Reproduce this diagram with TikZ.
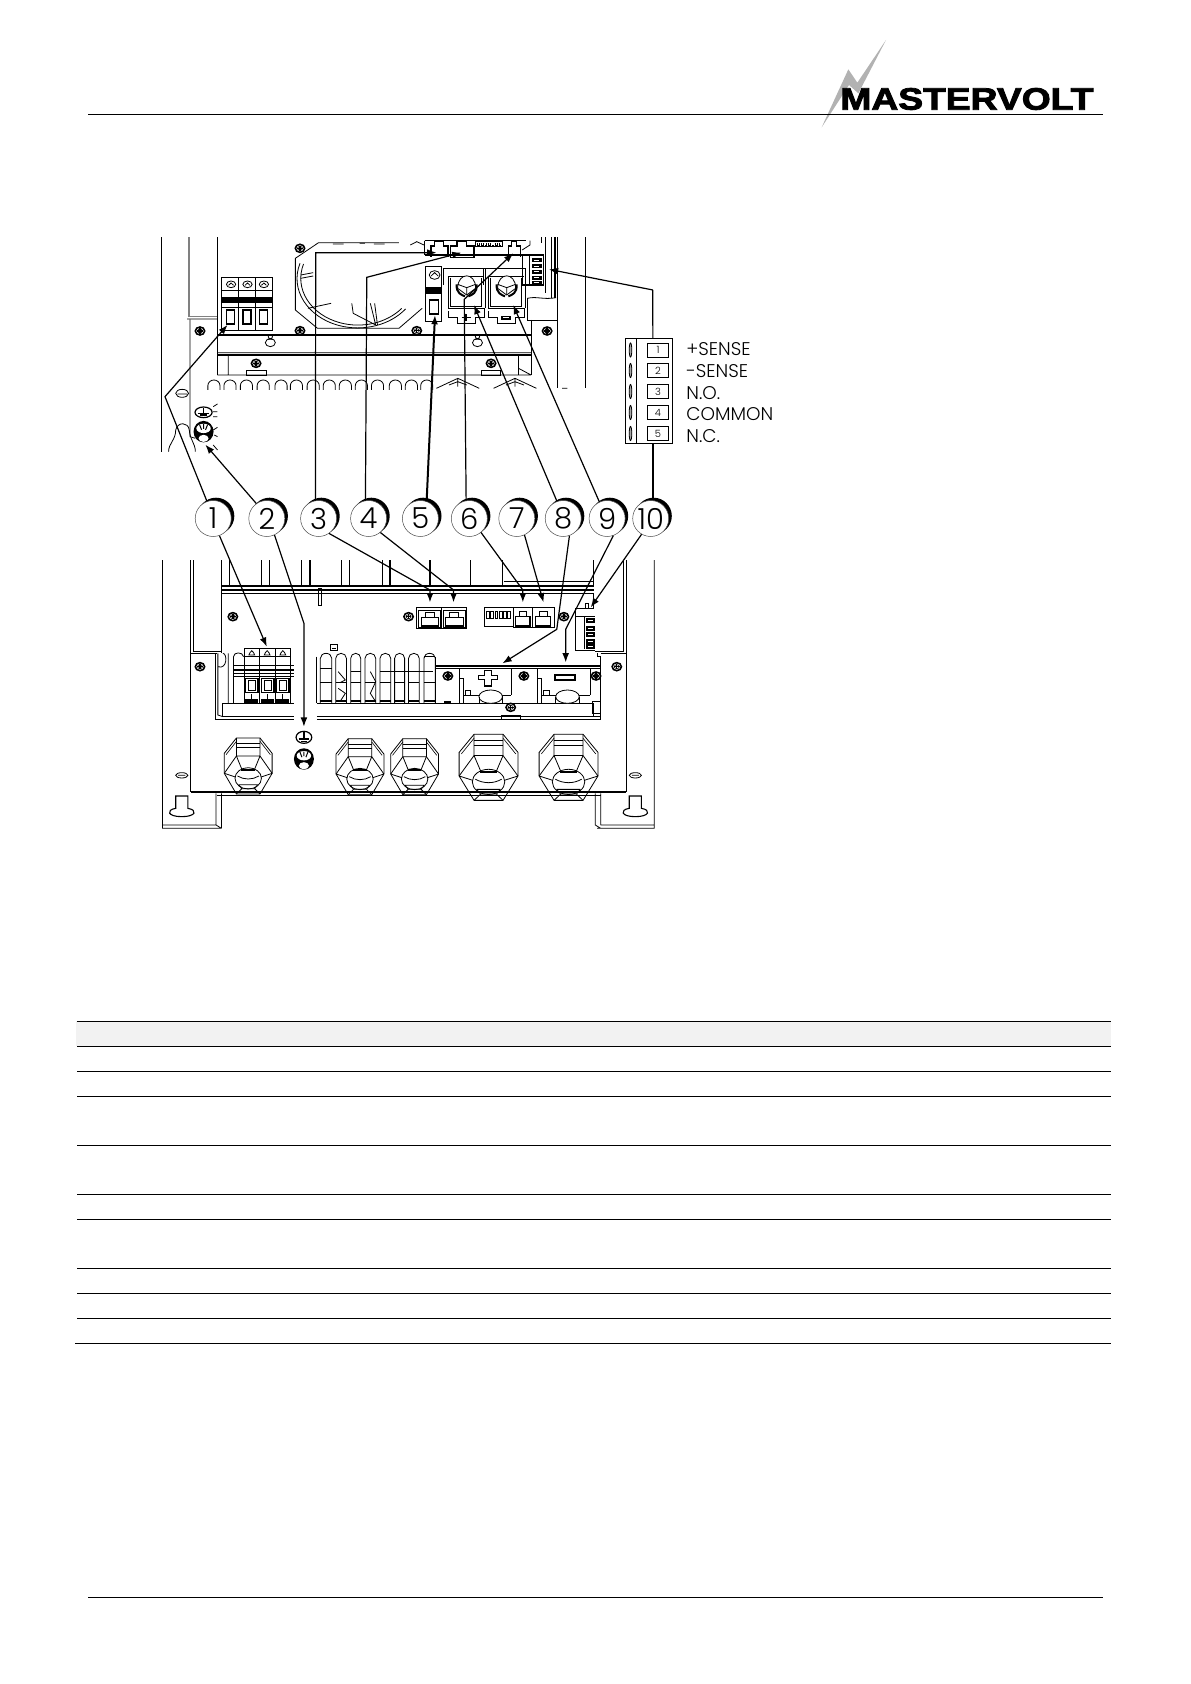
\documentclass[tikz,border=0pt]{standalone}
\usepackage{fontspec}
\usepackage{graphicx}
\setmainfont{Poppins}
\newfontfamily\lightf{Poppins Light}
\newfontfamily\logofont{Liberation Sans}[FakeBold=2.5]
\usetikzlibrary{arrows.meta,calc}
\tikzset{
 art/.style={line width=0.4pt,black},
 artb/.style={line width=0.7pt,black},
 rule/.style={line width=0.5pt,black},
 conn/.style={line width=0.6pt,black,-{Latex[length=4.6pt,width=3.4pt]}},
 connb/.style={line width=1pt,black,-{Latex[length=4.6pt,width=3.4pt]}},
 numc/.style={circle,draw=black!70,line width=0.25pt,fill=white,minimum size=18pt,inner sep=0pt,font=\lightf\fontsize{14.5}{14.5}\selectfont},
 sqnum/.style={draw=black,line width=0.4pt,minimum width=10.5pt,minimum height=7pt,inner sep=0pt,font=\lightf\fontsize{5}{5}\selectfont},
 senselab/.style={anchor=base west,inner sep=0pt,font=\lightf\fontsize{9.2}{9.2}\selectfont,text=black},
}
\newcommand{\scr}[2]{\draw[art,line width=0.8pt,fill=white] (#1,#2) circle [x radius=13,y radius=12];
 \draw[art,line width=0.7pt] (#1-8,#2)--(#1+8,#2) (#1,#2-8)--(#1,#2+8) ;
 \draw[art,line width=0.3pt] (#1,#2) circle [x radius=7,y radius=6];}
\newcommand{\arch}[3]{\draw[art] (#1-#3,510) -- (#1-#3,#2) arc [start angle=180,end angle=360,x radius=#3,y radius=#3] -- (#1+#3,510);}
\newcommand{\groundbolt}[3]{\fill (#1,#2) circle [x radius=#3,y radius=#3*1.15];
 \fill[white] (#1,#2-#3*0.35) circle [x radius=#3*0.72,y radius=#3*0.5];
 \draw[line width=0.5pt] (#1-#3*0.4,#2-#3*0.75)--(#1-#3*0.2,#2-#3*0.2) (#1,#2-#3*0.8)--(#1,#2-#3*0.3) (#1+#3*0.4,#2-#3*0.75)--(#1+#3*0.2,#2-#3*0.2);
 \fill[white] (#1,#2+#3*0.72) circle [x radius=#3*0.5,y radius=#3*0.38];}
\newcommand{\cablegland}[4]{\begin{scope}[shift={(#1,#2)},xscale=#3,yscale=#4]
 \draw[art] (-33,-84)--(33,-84)--(67,-38)--(67,22)--(33,84)--(-33,84)--(-67,22)--(-67,-38)--cycle;
 \draw[art,line width=0.3pt] (-33,-74)--(-62,-34) (33,-74)--(62,-34);
 \draw[art] (-33,-68)--(33,-68);
 \draw[art,line width=0.55pt] (-33,-55)--(33,-55);
 \draw[art] (-33,-84)--(-33,-30)--(-17,12) (33,-84)--(33,-30)--(17,12) (-33,-30)--(33,-30);
 \draw[art] (-33,-30)--(-67,22) (33,-30)--(67,22) (-67,22)--(-36,33) (67,22)--(36,33);
 \draw[art] (0,37) circle [x radius=37,y radius=32];
 \draw[art,line width=0.9pt] (-19,11)--(19,11);
 \draw[art] (-30,30) .. controls (-12,42) and (12,42) .. (30,30);
 \draw[art] (-33,84)--(-18,68)--(18,68)--(33,84) (-27,56)--(27,56) (-27,56)--(-18,68) (27,56)--(18,68);
\end{scope}}
\begin{document}
\begin{tikzpicture}[x=0.5pt,y=-0.5pt]
\useasboundingbox (0,0) rectangle (1190,1684);
% page rules
\coordinate (rt1) at (88,114.8); \coordinate (rt2) at (1103,114.8);
\coordinate (rb1) at (88,1597); \coordinate (rb2) at (1103,1597);
\draw[rule] (rb1)--(rb2);
% logo
\begin{scope}[shift={(780,20)},xscale=1/3,yscale=1/3]
 \fill[black!30] (318,60)--(232,188)--(205,148)--(125,322)--(207,195)--(235,220)--cycle;
 \node[inner sep=0pt,anchor=west] (logo) at (180,237) {\resizebox{126.5pt}{10.8pt}{\logofont\bfseries MASTERVOLT}};
\end{scope}
\draw[rule] (rt1)--(rt2);
% table
\fill[black!5] (76,1021) rectangle (1111,1046);
\foreach \yy in {1021,1046,1071,1096,1145,1194,1219,1268,1293,1318}{\draw[rule] (77,\yy)--(1111,\yy);}
\draw[rule] (75,1343)--(1111,1343);
%%%%%%%%%% upper drawing
\begin{scope}[shift={(140,220)},xscale=1/2.8,yscale=1/3]
 \draw[art] (60,52)--(60,695) (217,52)--(217,465) (1248,52)--(1248,505) (1170,52)--(1170,505);
 \draw[art,black!50,line width=0.8pt] (137,52)--(137,290)--(217,290);
 \draw[art] (132,297)--(217,297) (140,300)--(140,650)--(155,655);
 \draw[art] (1095,300)--(1095,465) (1085,300)--(1170,300);
 % fan
 \draw[art] (435,115)--(500,68)--(725,68) (435,115)--(435,270)--(497,325)--(725,325)--(790,265);
 \draw[art] (448,130) arc [start angle=198,end angle=38,x radius=170,y radius=148];
 \draw[art] (458,132) arc [start angle=198,end angle=40,x radius=160,y radius=140];
 \draw[art] (470,265)--(535,250) (593,250)--(597,280)--(660,315) (645,250)--(660,315) (657,250)--(665,315);
 \draw[art] (450,165)--(485,158) (450,175)--(485,168) (540,72)--(570,72) (615,70)--(630,70) (655,72)--(685,72) (757,75)--(775,65)--(795,75);
 % breaker
 \draw[art] (228,172) rectangle (370,332) (275,172)--(275,332) (322,172)--(322,332) (228,212)--(370,212) (228,262)--(370,262);
 \fill (228,232) rectangle (370,248);
 \foreach \xx in {242,288,334}{\draw[artb] (\xx,270) rectangle (\xx+23,312);}
 \foreach \xx in {255,301,347}{\draw[art] (\xx,193) circle [x radius=13,y radius=10]; \draw[art] (\xx-7,196)--(\xx,189)--(\xx+7,196);}
 % rails
 \draw[artb,line width=0.9pt] (217,345)--(1095,345) (217,405)--(1095,405);
 \draw[art] (217,398)--(1095,398) (217,465)--(1095,465) (247,405)--(247,465) (1060,405)--(1060,465) (1060,445)--(1095,465);
 \scr{168}{333} \scr{448}{85} \scr{448}{332} \scr{775}{332} \scr{1140}{333}
 \foreach \xx in {365,945}{\draw[art,fill=white] (\xx,368) circle [x radius=14,y radius=12]; \draw[art] (\xx-8,358)--(\xx+8,358) (\xx,350) circle [x radius=6,y radius=6];}
 \scr{325}{430} \scr{983}{430}
 \draw[art] (298,452) rectangle (355,465) (955,452) rectangle (1010,465);
 % arches
 \foreach \xx in {207,252,298,345,395,438,485,530,575,620,665,715,760,803}{\arch{\xx}{497}{17}}
 \draw[art] (830,505)--(890,475)--(950,505) (865,495)--(890,485)--(915,495) (990,505)--(1050,475)--(1110,505) (1025,495)--(1050,485)--(1075,495) (890,475)--(890,500) (1050,475)--(1050,500) (1182,505)--(1197,505);
 % RJ block
 \draw[artb] (797,62)--(1080,62) (797,62)--(797,105) (797,105)--(1070,105);
 \draw[artb] (815,110)--(815,78)--(825,78)--(825,65)--(850,65)--(850,78)--(862,78)--(862,110);
 \draw[artb] (870,112)--(935,112)--(935,78)--(915,78)--(915,65)--(888,65)--(888,78)--(870,78)--cycle;
 \draw[art] (940,65) rectangle (1015,80);
 \foreach \xx in {945,955,965,975,985,995,1005}{\fill (\xx,68) rectangle (\xx+7,78); \fill[white] (\xx+2,70) rectangle (\xx+5,75);}
 \draw[artb] (1032,112)--(1032,78)--(1040,78)--(1040,65)--(1055,65)--(1055,78)--(1065,78)--(1065,112);
 % switch
 \draw[art,line width=0.6pt] (800,140) rectangle (845,305);
 \draw[art] (825,165) circle [x radius=15,y radius=13]; \draw[art] (815,168)--(825,158)--(835,168);
 \fill (800,200) rectangle (845,222);
 \draw[art,line width=0.6pt] (810,240) rectangle (835,282);
 % right connector
 \draw[art,line width=0.6pt] (1070,105)--(1130,105)--(1130,195)--(1070,195)--cycle (1090,105)--(1090,195);
 \foreach \yy in {115,133,150,168,183}{\fill (1097,\yy) rectangle (1125,\yy+11); \draw[white,line width=0.4pt] (1102,\yy+5)--(1118,\yy+5);}
 \draw[art,line width=0.7pt] (1125,52)--(1125,70) (1135,52)--(1135,220) (1152,52)--(1152,235) (1162,52)--(1162,235);
 \draw[art] (1092,62)--(1092,75)--(1070,90) (1085,300)--(1085,235) .. controls (1110,228) and (1130,240) .. (1165,233);
 % ground & curves
 \draw[art,line width=0.6pt] (178,577) circle [x radius=24,y radius=16];
 \draw[artb] (178,565)--(178,580) (162,580)--(194,580) (168,585)--(188,585);
 \groundbolt{178}{635}{28}
 \draw[art] (205,560)--(217,552) (205,575)--(217,575) (205,590)--(217,590) (205,630)--(217,622) (208,645)--(217,650) (205,675)--(217,690);
 \draw[art] (118,520) circle [x radius=18,y radius=12] (105,522)--(131,522);
 \draw[art] (80,695) .. controls (80,670) and (100,660) .. (100,630) .. controls (105,605) and (135,605) .. (138,630) .. controls (140,660) and (155,670) .. (155,695);
 \coordinate (t1) at (245,315); \coordinate (a1) at (70,530);
 \coordinate (t2) at (183,674);
 \coordinate (a3) at (492,98); \coordinate (t3) at (830,98);
 \coordinate (a4) at (635,172); \coordinate (t4) at (900,98);
 \coordinate (t5) at (826,285);
 \coordinate (a6) at (908,238); \coordinate (t6) at (1045,100);
 \coordinate (t8) at (935,255);
 \coordinate (t9) at (1045,255);
 \coordinate (a10) at (1436,210); \coordinate (t10) at (1145,148);
\end{scope}
%%%%%%%%%% power terminals, upper
\begin{scope}[shift={(410,225)},xscale=1/3,yscale=1/3]
 \foreach \dx in {0,120}{
  \begin{scope}[shift={(\dx,0)}]
  \draw[art] (100,180)--(100,130)--(225,130)--(225,250);
  \draw[artb] (115,250)--(115,155)--(222,155) (115,250)--(222,250);
  \draw[art] (122,158)--(122,243)--(215,243)--(215,158);
  \draw[art,fill=white] (143,190) .. controls (143,140) and (197,140) .. (197,190) -- (170,210) -- cycle;
  \draw[art] (143,178)--(170,188)--(197,178) (170,188)--(170,210);
  \draw[line width=1pt] (140,178) .. controls (138,205) and (155,210) .. (165,214) (200,178) .. controls (202,205) and (185,210) .. (175,214);
  \draw[art] (115,258)--(115,278)--(142,278)--(142,295)--(195,295)--(195,278)--(222,278)--(222,250);
  \end{scope}
 }
 \draw[art,line width=0.6pt] (155,278)--(182,278) (168,268)--(168,288);
 \draw[artb] (276,274) rectangle (300,282);
\end{scope}
%%%%%%%%%% lower drawing
\begin{scope}[shift={(140,540)},xscale=1/2.8,yscale=1/3]
 \draw[art] (63,60)--(63,865)--(228,865) (213,760)--(213,855)--(228,865) (228,760)--(228,865) (63,855)--(213,855);
 \draw[art] (1440,60)--(1440,865)--(1280,865) (1275,760)--(1275,855)--(1290,865) (1290,760)--(1290,855) (1440,855)--(1290,855);
 \draw[art] (142,60)--(142,755) (150,60)--(150,335) (142,340)--(215,340) (150,335)--(228,335) (1362,60)--(1362,755) (1353,60)--(1353,335) (1290,340)--(1362,340) (1275,335)--(1353,335);
 \draw[artb,line width=0.9pt] (142,755)--(1362,755);
 \draw[art] (215,767)--(1290,767);
 % fins
 \draw[art] (228,60)--(228,340);
 \foreach \xx in {250,340,362,452,476,565,587,680,700,812,925,1015,1270}{\draw[art,line width=0.6pt] (\xx,60)--(\xx,138);}
 \draw[art,line width=0.6pt] (228,138)--(1270,138) (228,150)--(1270,150) (228,160)--(1270,160) (1020,125)--(1270,125);
 \draw[art] (500,145) rectangle (508,195);
 \draw[art] (1270,160)--(1270,205)--(1220,205)--(1220,330)--(1275,330);
 % RJs
 \draw[art,line width=0.55pt] (775,203) rectangle (915,265) (845,203)--(845,265);
 \draw[art] (780,210) rectangle (840,262) (850,210) rectangle (910,262);
 \draw[art,line width=0.55pt] (788,232) rectangle (836,258) (855,232) rectangle (905,258);
 \draw[art] (800,232)--(800,218)--(825,218)--(825,232) (865,232)--(865,218)--(892,218)--(892,232);
 \draw[art,line width=0.55pt] (965,203) rectangle (1160,260);
 \draw[art,line width=0.55pt,fill=white] (1045,203) rectangle (1100,263) (1100,203) rectangle (1160,263);
 \draw[art,line width=0.55pt] (1052,230) rectangle (1092,258) (1108,230) rectangle (1150,258);
 \draw[art] (1062,230)--(1062,215)--(1082,215)--(1082,230) (1118,230)--(1118,215)--(1140,215)--(1140,230);
 \foreach \xx in {970,982,994,1006,1018,1030}{\draw[art] (\xx,215) rectangle (\xx+8,235);}
 \scr{260}{230} \scr{752}{230} \scr{1187}{230} \scr{168}{380} \scr{1335}{380} \scr{862}{408} \scr{1075}{408} \scr{1277}{408} \scr{1038}{502}
 % breaker
 \draw[art] (292,490)--(292,325)--(422,325)--(422,490) (335,325)--(335,490) (378,325)--(378,490) (292,350)--(422,350);
 \fill (262,388) rectangle (430,392);
 \draw[art] (262,375)--(430,375) (262,400)--(430,400) (262,410)--(430,410);
 \foreach \xx in {295,340,382}{\draw[artb] (\xx,415) rectangle (\xx+35,458); \draw[art] (\xx+8,420) rectangle (\xx+27,450); \draw[art] (\xx+17,462)--(\xx+17,480); \fill (\xx,478) rectangle (\xx+35,488);}
 \foreach \xx in {313,356,400}{\draw[art] (\xx-8,345)--(\xx-5,338)--(\xx,332)--(\xx+5,338)--(\xx+8,345)--cycle;}
 \draw[art] (262,490)--(262,350) .. controls (262,335) and (288,335) .. (290,350);
 \draw[art] (218,340)--(218,525)--(232,530) (218,380) .. controls (245,390) and (245,340) .. (232,340) (247,340)--(247,490);
 % terminal combs
 \foreach \xx/\w in {505/32,548/30,590/28,630/30,672/30,713/28,752/30,795/32}{
  \draw[art] (\xx,490)--(\xx,355) arc [start angle=180,end angle=360,x radius=\w/2,y radius=15] -- (\xx+\w,490);
  \draw[art,line width=0.8pt] (\xx,428)--(\xx+\w,428) (\xx,483)--(\xx+\w,483);
 }
 \draw[art] (495,350)--(495,490) (505,385)--(537,385) (590,395)--(618,395) (672,395)--(820,395);
 \draw[artb] (795,350)--(827,350);
 \draw[art] (533,330) rectangle (552,313) (537,325)--(548,325);
 \draw[art] (555,395)--(575,420)--(560,428) (555,445)--(575,460)--(560,485) (645,395)--(660,425)--(645,460)--(660,485);
 % rail
 \draw[art] (232,490)--(430,490) (495,490)--(1270,490) (232,530)--(430,530) (495,530)--(1290,530) (232,490)--(232,530);
 \draw[artb] (210,538)--(430,538) (495,538)--(1290,538);
 \draw[art] (210,340)--(210,538) (1290,350)--(1290,538) (1270,490)--(1270,530) (1280,340)--(1280,350)--(1290,350);
 \draw[art] (1012,525) rectangle (1065,538) (1268,485) rectangle (1290,520);
 % power terminals
 \draw[artb] (830,378)--(1290,378);
 \draw[art] (830,385)--(1290,385) (828,350)--(828,490) (893,385)--(893,490) (1040,385)--(1040,465) (1113,385)--(1113,490) (1260,385)--(1260,465);
 \draw[art] (905,465)--(1040,465) (1125,465)--(1260,465);
 \draw[art] (893,415) rectangle (905,490) (1113,415) rectangle (1125,490);
 \draw[art] (910,450) rectangle (925,465) (1130,450) rectangle (1145,465);
 \draw[art,line width=0.55pt] (965,392)--(985,392)--(985,407)--(1002,407)--(1002,418)--(985,418)--(985,438)--(965,438)--(965,418)--(948,418)--(948,407)--(965,407)--cycle;
 \draw[art,line width=0.55pt] (1162,405) rectangle (1218,420);
 \foreach \xx in {982,1197}{\draw[art,fill=white] (\xx,470) circle [x radius=33,y radius=20]; \draw[art] (\xx-33,490)--(\xx-33,470) (\xx+33,490)--(\xx+33,470);}
 \fill (852,483) rectangle (870,490);
 % right connector
 \draw[art] (1243,230)--(1243,328) (1220,228)--(1275,228);
 \foreach \yy in {235,258,277,297,312}{\fill (1250,\yy) rectangle (1273,\yy+14); \draw[white,line width=0.4pt] (1255,\yy+7)--(1268,\yy+7);}
 \draw[art] (1248,190) rectangle (1256,205);
 % ground, bolt
 \draw[art,line width=0.6pt] (459,592) circle [x radius=22,y radius=18];
 \draw[artb] (459,572)--(459,600) (444,597)--(474,597) (451,604)--(467,604);
 \groundbolt{459}{657}{28}
 % glands
 \cablegland{303}{678}{1}{1}
 \cablegland{616}{680}{1}{1}
 \cablegland{769}{680}{1}{1}
 \cablegland{976}{682}{1.23}{1.18}
 \cablegland{1200}{682}{1.23}{1.18}
 % keyholes, slots
 \foreach \xx in {117,1387}{
  \draw[art] (\xx,706) circle [x radius=17,y radius=8] (\xx-10,706)--(\xx+10,706);
  \draw[art,line width=0.55pt] (\xx-17,768)--(\xx+17,768)--(\xx+17,805) .. controls (\xx+45,810) and (\xx+40,830) .. (\xx,830) .. controls (\xx-40,830) and (\xx-45,810) .. (\xx-17,805)--cycle;
 }
 \coordinate (b1) at (355,320);
 \coordinate (c2) at (459,250); \coordinate (b2) at (459,560);
 \coordinate (c3) at (812,150); \coordinate (b3) at (812,187);
 \coordinate (c4) at (878,150); \coordinate (b4) at (878,187);
 \coordinate (c6) at (1072,150); \coordinate (b6) at (1072,187);
 \coordinate (b7) at (1130,187);
 \coordinate (c8) at (1167,268); \coordinate (b8) at (1015,370);
 \coordinate (c9) at (1192,268); \coordinate (b9) at (1192,367);
 \coordinate (b10) at (1262,202);
\end{scope}
%%%%%%%%%% sense box connector (behind box)
\coordinate (d10) at (652.9,444);
\draw[line width=0.6pt] (a10)--(d10);
% sense box
\draw[art,line width=0.5pt,fill=white] (625.5,339) rectangle (672.7,444);
\draw[art,line width=0.5pt] (636.5,339)--(636.5,444);
\foreach \i/\yy/\by/\lab in {1/350/356/{+SENSE},2/370.5/377.5/{-SENSE},3/391.5/399.5/{N.O.},4/412.5/421/{COMMON},5/433.5/442.5/{N.C.}}{
 \node[sqnum] (sq\i) at (658,\yy) {\i};
 \draw[art,fill=black!35] (630.5,\yy) circle [x radius=1.3,y radius=7];
 \node[senselab] (lab\i) at (686,\by) {\lab};
}
%%%%%%%%%% numbered circles
\foreach \i/\xx in {1/213.2,2/266.8,3/318.6,4/368.6,5/420.4,6/469.3,7/516.8,8/563.2,9/607.1,10/650.7}{
 \fill[black] (\xx+2.8,516) circle [radius=18.3];
 \node[numc] (n\i) at (\xx,518.5) {\i};
}
%%%%%%%%%% connectors
\draw[conn] (n1.110)--(a1)--(t1);
\draw[conn] (n2.125)--(t2);
\draw[conn] (n3.100)--(a3)--(t3);
\draw[conn] (n4.100)--(a4)--(t4);
\draw[connb] (n5.70)--(t5);
\draw[conn] (n6.100)--(a6)--(t6);
\draw[conn] (n8.110)--(t8);
\draw[conn] (n9.115)--(t9);
\draw[line width=0.6pt,-{Latex[length=4.6pt,width=3.4pt]}] (a10)--(t10);
\draw[line width=0.6pt] (d10)--(d10 |- n10.north);
\draw[conn] (n1.-70)--(b1);
\draw[conn] (n2.-65)--(c2)--(b2);
\draw[conn] (n3.-55)--(c3)--(b3);
\draw[conn] (n4.-50)--(c4)--(b4);
\draw[conn] (n6.-50)--(c6)--(b6);
\draw[conn] (n7.-65)--(b7);
\draw[conn] (n8.-70)--(c8)--(b8);
\draw[conn] (n9.-70)--(c9)--(b9);
\draw[conn] (n10.-120)--(b10);
\end{tikzpicture}
\end{document}
